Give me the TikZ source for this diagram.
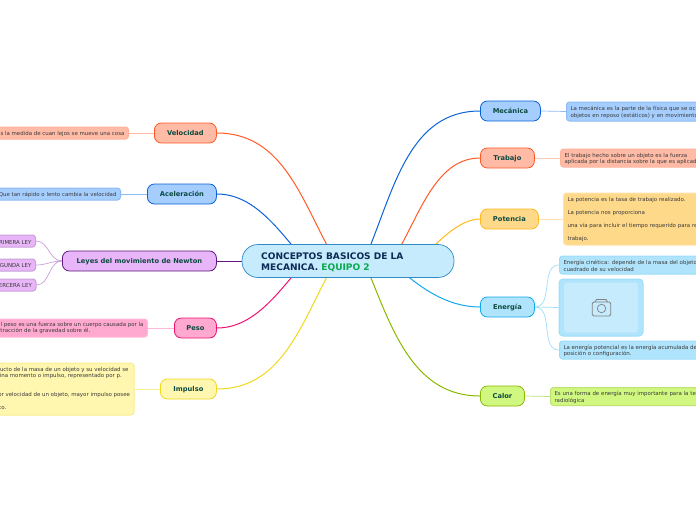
\documentclass[tikz,border=0pt]{standalone}
\usepackage{fontspec}
\setmainfont{DejaVu Sans}
\usetikzlibrary{backgrounds}
\definecolor{rootfill}{HTML}{C5EBFD}
\definecolor{rootline}{HTML}{2E8BC7}
\definecolor{rootink}{HTML}{0D2A55}
\definecolor{teamink}{HTML}{0BA84E}
\definecolor{topicink}{HTML}{0C4A40}
\definecolor{leafink}{HTML}{3A3A3A}
\definecolor{orangeline}{HTML}{FF5A26}
\definecolor{orangefill}{HTML}{FFBBA5}
\definecolor{orangeleaf}{HTML}{FFC9B8}
\definecolor{blueline}{HTML}{0B62D8}
\definecolor{bluefill}{HTML}{A5CEFF}
\definecolor{blueleaf}{HTML}{8DBBF5}
\definecolor{purpleline}{HTML}{5E1A7E}
\definecolor{purplefill}{HTML}{E8B6F8}
\definecolor{purpleleaf}{HTML}{C9A0D8}
\definecolor{pinkline}{HTML}{F0106E}
\definecolor{pinkfill}{HTML}{FFA9D0}
\definecolor{pinkleaf}{HTML}{FFB8D8}
\definecolor{yellowline}{HTML}{F0D81C}
\definecolor{yellowfill}{HTML}{FFF6B0}
\definecolor{yellowleaf}{HTML}{F8EE90}
\definecolor{amberline}{HTML}{FFB81E}
\definecolor{amberfill}{HTML}{FFD98A}
\definecolor{amberleaf}{HTML}{FFE2A8}
\definecolor{skyline}{HTML}{10A8F0}
\definecolor{skyfill}{HTML}{B0E4FC}
\definecolor{skyleaf}{HTML}{A0DCF8}
\definecolor{limeline}{HTML}{8AB800}
\definecolor{limefill}{HTML}{D0F880}
\definecolor{limeleaf}{HTML}{C0E070}
\begin{document}
\begin{tikzpicture}[x=1pt, y=-1pt, line join=round,
  topic/.style n args={4}{draw=#1, fill=#2, line width=.8pt, rounded corners=7pt, anchor=west,
    minimum width=#3, minimum height=#4, inner sep=0pt, text=topicink, text height=4pt, text depth=0pt,
    font=\fontsize{6.7}{7.5}\selectfont\bfseries},
  leaf/.style n args={2}{draw=#1, fill=#2, line width=1pt, rounded corners=3pt, inner xsep=4pt, inner ysep=2pt,
    text=leafink, align=left, font=\fontsize{5.45}{6.3}\selectfont,
    execute at begin node={\rule{0pt}{6pt}}},
  leafR/.style={anchor=west, text width=200pt},
  twig/.style={draw=#1, line width=.7pt},
  limb/.style={draw=#1, line width=1pt}]
  \clip (0,0) rectangle (696,520);

  \node[draw=rootline, fill=rootfill, line width=.7pt, rounded corners=16pt, minimum width=212pt,
    minimum height=33pt, inner sep=0pt] (root) at (348,261) {};
  \node[anchor=west, align=left, text=rootink, inner sep=0pt,
    font=\fontsize{9.05}{11}\selectfont\bfseries] (roottext) at (261,262)
    {CONCEPTOS BASICOS DE LA\\MECANICA. \textcolor{teamink}{EQUIPO 2}};
  \coordinate (inA) at (329,249);
  \coordinate (inB) at (296,250);
  \coordinate (inC) at (296,272);
  \coordinate (inD) at (329,273);
  \coordinate (inE) at (369,249);
  \coordinate (inF) at (399,249);
  \coordinate (inG) at (431,249);
  \coordinate (inH) at (405,274);
  \coordinate (inI) at (369,273);

  % left side
  \node[topic={orangeline}{orangefill}{62pt}{20pt}] (velocidad) at (154,133) {Velocidad};
  \node[topic={blueline}{bluefill}{69pt}{20pt}] (aceleracion) at (147,194) {Aceleración};
  \node[topic={purpleline}{purplefill}{154pt}{20pt}] (leyes) at (62,261) {Leyes del movimiento de Newton};
  \node[topic={pinkline}{pinkfill}{42pt}{20pt}] (peso) at (174,328) {Peso};
  \node[topic={yellowline}{yellowfill}{56pt}{20pt}] (impulso) at (160,389) {Impulso};

  \node[leaf={orangeleaf!80!orangeline}{orangefill}, anchor=east, minimum height=12pt] (velocidadtxt) at (129,133)
    {Es la medida de cuan lejos se mueve una cosa};
  \node[leaf={blueleaf}{bluefill}, anchor=east, minimum height=12pt] (aceleraciontxt) at (121,194)
    {Que tan rápido o lento cambia la velocidad};
  \node[leaf={purpleleaf}{purplefill}, anchor=east, minimum height=12pt] (primera) at (36,241) {PRIMERA LEY};
  \node[leaf={purpleleaf}{purplefill}, anchor=east, minimum height=12pt] (segunda) at (36,265) {SEGUNDA LEY};
  \node[leaf={purpleleaf}{purplefill}, anchor=east, minimum height=12pt] (tercera) at (36.5,285) {TERCERA LEY};
  \node[leaf={pinkleaf}{pinkfill}, anchor=east, minimum height=18pt] (pesotxt) at (148,328)
    {El peso es una fuerza sobre un cuerpo causada por la\\atracción de la gravedad sobre él.};
  \node[leaf={yellowleaf}{yellowfill}, anchor=east, minimum height=52pt] (impulsotxt) at (134.5,389)
    {El producto de la masa de un objeto y su velocidad se\\denomina momento o impulso, representado por p.\\[13pt]
     A mayor velocidad de un objeto, mayor impulso posee\\[6.7pt]el objeto.};

  % right side
  \node[topic={blueline}{bluefill}{60pt}{20pt}] (mecanica) at (480,111) {Mecánica};
  \node[topic={orangeline}{orangefill}{54pt}{20pt}] (trabajo) at (480,158) {Trabajo};
  \node[topic={amberline}{amberfill}{58pt}{20pt}] (potencia) at (480,219) {Potencia};
  \node[topic={skyline}{skyfill}{54pt}{20pt}] (energia) at (480,307) {Energía};
  \node[topic={limeline}{limefill}{44pt}{20pt}] (calor) at (480,396) {Calor};

  \node[leaf={blueleaf}{bluefill}, leafR, minimum height=19pt] (mecanicatxt) at (566,111.5)
    {La mecánica es la parte de la física que se ocupa\\objetos en reposo (estáticos) y en movimiento};
  \node[leaf={orangeleaf!80!orangeline}{orangefill}, leafR, minimum height=18pt] (trabajotxt) at (560,158)
    {El trabajo hecho sobre un objeto es la fuerza\\aplicada por la distancia sobre la que es aplicada};
  \node[leaf={amberleaf}{amberfill}, leafR, minimum height=52pt] (potenciatxt) at (563,219)
    {La potencia es la tasa de trabajo realizado.\\[6.7pt]La potencia nos proporciona\\[6.7pt]
     una vía para incluir el tiempo requerido para realizar\\[6.7pt]trabajo.};
  \node[leaf={skyleaf}{skyfill}, leafR, minimum height=18pt] (cinetica) at (559,265)
    {Energía cinética: depende de la masa del objeto\\cuadrado de su velocidad};
  \node[leaf={skyleaf}{skyfill}, leafR, minimum height=18pt] (potencial) at (559,350)
    {La energía potencial es la energía acumulada debido\\posición o configuración.};
  \node[leaf={limeleaf}{limefill}, leafR, minimum height=18pt] (calortxt) at (550,396.5)
    {Es una forma de energía muy importante para la terapia\\radiológica};

  % picture placeholder
  \node[draw=skyleaf, fill=skyfill, line width=1pt, rounded corners=4pt, minimum width=84pt, minimum height=57pt,
    inner sep=0pt] (foto) at (601,307.5) {};
  \node[fill=rootfill, rounded corners=3pt, minimum width=74pt, minimum height=50pt, inner sep=0pt] (fotoin) at (601,307.5) {};
  \node[draw=gray, line width=.8pt, rounded corners=1.5pt, minimum width=18.5pt, minimum height=14pt, inner sep=0pt] (camera) at (601.5,309) {};
  \node[draw=gray, circle, line width=.7pt, minimum size=8.5pt, inner sep=0pt] (lens) at (601.5,308.5) {};
  \draw[gray, line width=.8pt] (595,302) -- (596.5,299.5) -- (606,299.5) -- (607.5,302);

  \begin{scope}[on background layer]
    \draw[limb=orangeline] (velocidad.east) to[out=0, in=118, looseness=1] (inA);
    \draw[limb=blueline] (aceleracion.east) to[out=0, in=130, looseness=.9] (inB);
    \draw[limb=purpleline] (leyes.east) -- (root.west);
    \draw[limb=pinkline] (peso.east) to[out=0, in=-130, looseness=.9] (inC);
    \draw[limb=yellowline] (impulso.east) to[out=0, in=-118, looseness=1] (inD);
    \draw[limb=blueline] (mecanica.west) to[out=180, in=68, looseness=1] (inE);
    \draw[limb=orangeline] (trabajo.west) to[out=180, in=60, looseness=.9] (inF);
    \draw[limb=amberline] (potencia.west) to[out=180, in=45, looseness=.8] (inG);
    \draw[limb=skyline] (energia.west) to[out=180, in=-40, looseness=.9] (inH);
    \draw[limb=limeline] (calor.west) to[out=180, in=-68, looseness=1] (inI);

    \draw[twig=orangefill] (velocidad.west) -- (velocidadtxt.east);
    \draw[twig=blueleaf] (aceleracion.west) -- (aceleraciontxt.east);
    \draw[twig=purpleleaf] (leyes.west) to[out=180, in=0] (primera.east);
    \draw[twig=purpleleaf] (leyes.west) to[out=180, in=0] (segunda.east);
    \draw[twig=purpleleaf] (leyes.west) to[out=180, in=0] (tercera.east);
    \draw[twig=pinkleaf] (peso.west) -- (pesotxt.east);
    \draw[twig=yellowleaf] (impulso.west) -- (impulsotxt.east);
    \draw[twig=blueleaf] (mecanica.east) -- (mecanicatxt.west);
    \draw[twig=orangeleaf] (trabajo.east) -- (trabajotxt.west);
    \draw[twig=amberleaf] (potencia.east) -- (potenciatxt.west);
    \draw[twig=skyleaf] (energia.east) to[out=0, in=180] (cinetica.west);
    \draw[twig=skyleaf] (energia.east) -- (foto.west);
    \draw[twig=skyleaf] (energia.east) to[out=0, in=180] (potencial.west);
    \draw[twig=limeleaf] (calor.east) -- (calortxt.west);
  \end{scope}
\end{tikzpicture}
\end{document}
